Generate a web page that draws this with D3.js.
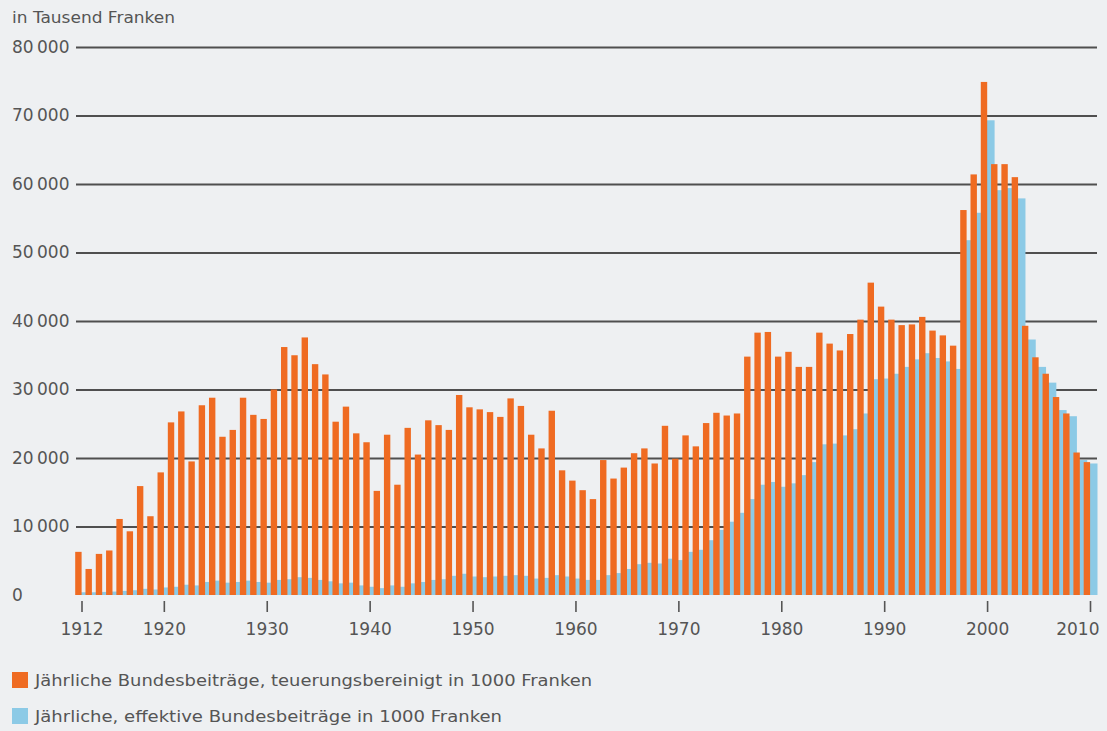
<!DOCTYPE html>
<html>
<head>
<meta charset="utf-8">
<script src="https://cdn.jsdelivr.net/npm/d3@7"></script>
<style>
  body { margin: 0; background: #eef0f2; }
  svg text { font-family: "DejaVu Sans", sans-serif; fill: #555; }
</style>
</head>
<body>
<script>
// years shown on the x axis
const years = [1912, 1913, 1914, 1915, 1916, 1917, 1918, 1919, 1920, 1921, 1922, 1923, 1924, 1925, 1926, 1927, 1928, 1929,
    1930, 1931, 1932, 1933, 1934, 1935, 1936, 1937, 1938, 1939, 1940, 1941, 1942, 1943, 1944, 1945, 1946, 1947, 1948, 1949,
    1950, 1951, 1952, 1953, 1954, 1955, 1956, 1957, 1958, 1959, 1960, 1961, 1962, 1963, 1964, 1965, 1966, 1967, 1968, 1969,
    1970, 1971, 1972, 1973, 1974, 1975, 1976, 1977, 1978, 1979, 1980, 1981, 1982, 1983, 1984, 1985, 1986, 1987, 1988, 1989,
    1990, 1991, 1992, 1993, 1994, 1995, 1996, 1997, 1998, 1999, 2000, 2001, 2002, 2003, 2004, 2005, 2006, 2007, 2008, 2009, 2010];

// Jährliche Bundesbeiträge, teuerungsbereinigt (1000 Fr.)
const adjusted = [6300, 3800, 6000, 6500, 11100, 9300, 15900, 11500, 17900, 25200, 26800, 19500, 27700, 28800, 23100, 24100, 28800, 26300,
    25700, 30000, 36200, 35000, 37600, 33700, 32200, 25300, 27500, 23600, 22300, 15200, 23400, 16100, 24400, 20500, 25500, 24800, 24100, 29200,
    27400, 27100, 26700, 26000, 28700, 27600, 23400, 21400, 26900, 18200, 16700, 15300, 14000, 19700, 17000, 18600, 20700, 21400, 19200, 24700,
    19900, 23300, 21700, 25100, 26600, 26200, 26500, 34800, 38300, 38400, 34800, 35500, 33300, 33300, 38300, 36700, 35700, 38100, 40200, 45600,
    42100, 40200, 39400, 39500, 40600, 38600, 37900, 36400, 56200, 61400, 74900, 62900, 62900, 61000, 39300, 34700, 32300, 28900, 26500, 20800, 19400];

// Jährliche, effektive Bundesbeiträge (1000 Fr.)
const effective = [400, 400, 450, 500, 600, 700, 900, 800, 1100, 1200, 1500, 1400, 1900, 2100, 1800, 1900, 2100, 1900,
    1800, 2200, 2300, 2600, 2500, 2200, 2000, 1700, 1800, 1400, 1200, 1000, 1400, 1200, 1700, 1900, 2200, 2300, 2800, 3100,
    2700, 2600, 2700, 2800, 2900, 2800, 2400, 2500, 2900, 2700, 2400, 2200, 2200, 2900, 3200, 3800, 4500, 4700, 4600, 5300,
    5100, 6300, 6600, 8000, 9500, 10700, 12000, 14000, 16100, 16500, 15800, 16300, 17500, 19400, 22000, 22100, 23300, 24200, 26500, 31500,
    31600, 32300, 33300, 34400, 35300, 34600, 34100, 33000, 51800, 55800, 69300, 59100, 59400, 57900, 37300, 33300, 31000, 27000, 26100, 19700, 19200];

const yTicks = [0, 10000, 20000, 30000, 40000, 50000, 60000, 70000, 80000];
const xTicks = [1912, 1920, 1930, 1940, 1950, 1960, 1970, 1980, 1990, 2000, 2010];
const legendLabels = ["Jährliche Bundesbeiträge, teuerungsbereinigt in 1000 Franken",
    "Jährliche, effektive Bundesbeiträge in 1000 Franken"];

const W = 1107, H = 731;
const orange = "#ef6b22", blue = "#8ccae6";
const gridLeft = 76, gridRight = 1097;

const rows = years.map((yr, i) => ({ year: yr, adj: adjusted[i], eff: effective[i] }));

const svg = d3.select("body").append("svg")
    .attr("width", W)
    .attr("height", H)
    .attr("xmlns", "http://www.w3.org/2000/svg");

svg.append("rect").attr("width", W).attr("height", H).attr("fill", "#eef0f2");

const x = d3.scaleLinear().domain([1912, 2010]).range([81.5, 1090]);
const y = d3.scaleLinear().domain([0, 80000]).range([595, 47]);

const loc = d3.formatLocale({ thousands: "\u2009", grouping: [3], decimal: ",", currency: ["", ""] });
const fmt = loc.format(",d");

// y axis: labels + gridlines
const yAxis = svg.append("g")
    .attr("transform", "translate(" + gridLeft + ",0)")
    .call(d3.axisLeft(y).tickValues(yTicks).tickSize(-(gridRight - gridLeft)).tickFormat(fmt));
yAxis.select(".domain").remove();
yAxis.selectAll(".tick line")
    .attr("stroke", "#4f4f4f")
    .attr("stroke-width", 1.8)
    .filter(d => d === 0).remove();
yAxis.selectAll(".tick text")
    .attr("x", 12 - gridLeft)
    .attr("text-anchor", "start")
    .style("font-size", "17px")
    .style("fill", "#555");

svg.append("text")
    .attr("x", 12)
    .attr("y", 23)
    .attr("textLength", 163)
    .attr("lengthAdjust", "spacingAndGlyphs")
    .style("font-size", "16px")
    .text("in Tausend Franken");

// bars: effective (behind, wide) then adjusted (front, narrow)
svg.append("g").selectAll("rect")
    .data(rows)
    .join("rect")
    .attr("x", d => x(d.year) - 3)
    .attr("width", 10.5)
    .attr("y", d => y(d.eff))
    .attr("height", d => y(0) - y(d.eff))
    .attr("fill", blue);

svg.append("g").selectAll("rect")
    .data(rows)
    .join("rect")
    .attr("x", d => x(d.year) - 6.3)
    .attr("width", 6.4)
    .attr("y", d => y(d.adj))
    .attr("height", d => y(0) - y(d.adj))
    .attr("fill", orange);

// x axis
const xAxis = svg.append("g")
    .attr("transform", "translate(0,601)")
    .call(d3.axisBottom(x).tickValues(xTicks).tickSize(11).tickPadding(11).tickFormat(d3.format("d")));
xAxis.select(".domain").remove();
xAxis.selectAll(".tick line").attr("stroke", "#555").attr("stroke-width", 1.6);
xAxis.selectAll(".tick text")
    .style("font-size", "17px")
    .style("fill", "#555");
xAxis.selectAll(".tick text").filter(d => d === 2010)
    .attr("text-anchor", "end")
    .attr("x", 9);

// legend
const legend = svg.append("g");
const lg = legend.selectAll("g")
    .data(legendLabels)
    .join("g")
    .attr("transform", (d, i) => "translate(12," + (672 + i * 36) + ")");
lg.append("rect")
    .attr("width", 16)
    .attr("height", 16)
    .attr("fill", (d, i) => i === 0 ? orange : blue);
lg.append("text")
    .attr("x", 23)
    .attr("y", 14)
    .attr("textLength", (d, i) => i === 0 ? 557 : 467)
    .attr("lengthAdjust", "spacingAndGlyphs")
    .style("font-size", "16px")
    .text(d => d);
</script>
</body>
</html>
